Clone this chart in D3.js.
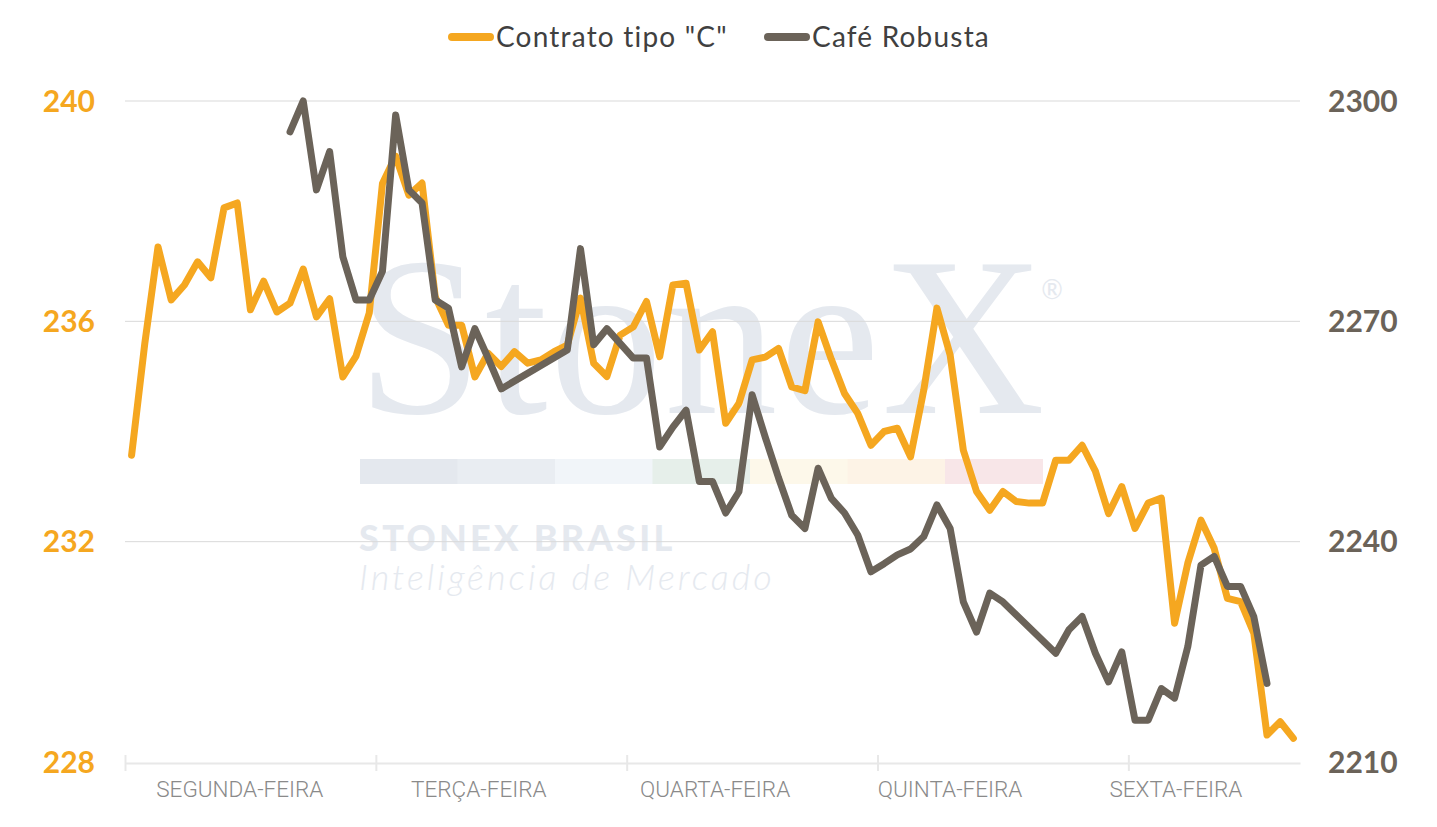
<!DOCTYPE html>
<html lang="pt">
<head>
  <meta charset="UTF-8">
  <title>Contrato C x Café Robusta</title>
  <script src="https://d3js.org/d3.v7.min.js"></script>
  <style>
    body { margin: 0; background: #fff; }
  </style>
</head>
<body>
  <div class="canvas"></div>
  <script>
    const width = 1437;
    const height = 827;

    // dias da semana e onde começa cada dia (em intervalos do eixo)
    const days = ['SEGUNDA-FEIRA', 'TERÇA-FEIRA', 'QUARTA-FEIRA', 'QUINTA-FEIRA', 'SEXTA-FEIRA'];
    const dayStart = [0, 19, 38, 57, 76];
    const dayLabelAt = [8.7, 26.8, 44.7, 62.5, 79.6];
    const slotCount = 89;

    const leftTicks = [228, 232, 236, 240];
    const rightTicks = [2210, 2240, 2270, 2300];

    const seriesNames = ['Contrato tipo "C"', 'Café Robusta'];

    const contratoC = [
      233.57, 235.6, 237.35, 236.39, 236.66, 237.08, 236.79, 238.06, 238.15, 236.21,
      236.73, 236.17, 236.33, 236.95, 236.08, 236.41, 234.99, 235.37, 236.15, 238.5,
      239.0, 238.29, 238.51, 236.44, 235.93, 235.93, 234.99, 235.42, 235.18, 235.45,
      235.24, 235.3, 235.45, 235.57, 236.42, 235.24, 235.0, 235.75, 235.9, 236.36,
      235.36, 236.66, 236.69, 235.48, 235.81, 234.15, 234.51, 235.3, 235.35, 235.51,
      234.81, 234.74, 235.99, 235.31, 234.69, 234.33, 233.75, 234.0, 234.06, 233.54,
      234.75, 236.24, 235.39, 233.66, 232.91, 232.57, 232.91, 232.73, 232.7, 232.7,
      233.48, 233.48, 233.75, 233.28, 232.51, 233.0, 232.24, 232.7, 232.79, 230.52,
      231.61, 232.39, 231.88, 230.97, 230.91, 230.34, 228.49, 228.73, 228.43
    ];

    const robusta = [
      null, null, null, null, null, null, null, null, null, null,
      null, null, 2295.8, 2300, 2287.9, 2293.1, 2278.8, 2272.9, 2272.9, 2276.8,
      2298.1, 2287.9, 2286.1, 2272.9, 2271.8, 2263.8, 2269.0, 2265.0, 2260.8, null,
      null, null, null, 2266.1, 2279.9, 2266.8, 2269.0, 2267.0, 2265.0, 2265.0,
      2252.9, 2255.6, 2257.9, 2248.2, 2248.2, 2243.9, 2246.8, 2260.0, 2254.2, 2248.7,
      2243.6, 2241.8, 2250.0, 2245.9, 2243.9, 2240.9, 2235.9, 2237.0, 2238.2, 2239.0,
      2240.7, 2245.0, 2241.8, 2231.8, 2227.7, 2233.0, 2231.8, null, null, null,
      2224.8, 2228.0, 2229.8, 2224.8, 2220.9, 2225.0, 2215.7, 2215.7, 2220.0, 2218.7,
      2225.7, 2236.8, 2238.0, 2233.9, 2233.9, 2229.8, 2220.7, null, null
    ];

    const orange = '#F5A720';
    const brown = '#6B6359';
    const mark = '#e5e9ef';

    const [mt, mb, ml, mr] = [101, 65, 125, 137];

    const svg = d3.select('.canvas')
      .append('svg')
      .attr('width', width)
      .attr('height', height)
      .style('font-family', 'Lato, sans-serif');

    const x = d3.scaleLinear()
      .domain([0, slotCount])
      .range([ml, width - mr]);

    const yL = d3.scaleLinear()
      .domain([228, 240])
      .range([height - mb, mt]);

    const yR = d3.scaleLinear()
      .domain([2210, 2300])
      .range([height - mb, mt]);

    // marca d'água
    const wm = svg.append('g');
    wm.append('text')
      .attr('x', 357).attr('y', 413)
      .attr('font-family', '"Liberation Serif", "DejaVu Serif", serif')
      .attr('font-size', 226)
      .attr('letter-spacing', 2)
      .attr('fill', mark)
      .text('StoneX');
    wm.append('text')
      .attr('x', 1052).attr('y', 299)
      .attr('text-anchor', 'middle')
      .attr('font-size', 26)
      .attr('fill', mark)
      .text('®');
    const stripe = ['#e4e8ee', '#e9edf2', '#f1f5f9', '#e6efea', '#fdf8ea', '#fdf3e6', '#f8e6e8'];
    wm.selectAll('rect.stripe').data(stripe).enter()
      .append('rect')
      .attr('class', 'stripe')
      .attr('x', (d, i) => 360 + i * 97.5)
      .attr('y', 459)
      .attr('width', 98)
      .attr('height', 25)
      .attr('fill', d => d);
    wm.append('text')
      .attr('x', 359).attr('y', 551)
      .attr('font-size', 36)
      .attr('font-weight', 900)
      .attr('letter-spacing', 3.3)
      .attr('fill', mark)
      .text('STONEX BRASIL');
    wm.append('text')
      .attr('x', 359).attr('y', 590)
      .attr('font-size', 36)
      .attr('font-style', 'italic')
      .attr('font-weight', 300)
      .attr('letter-spacing', 3)
      .attr('fill', mark)
      .text('Inteligência de Mercado');

    // grade
    svg.append('g')
      .selectAll('line')
      .data(leftTicks.slice(1))
      .enter()
      .append('line')
      .attr('x1', x(0)).attr('x2', x(slotCount))
      .attr('y1', d => yL(d)).attr('y2', d => yL(d))
      .attr('stroke', '#d9d9d9')
      .attr('stroke-width', 1);

    // eixo x
    const xAxis = svg.append('g')
      .attr('transform', `translate(0, ${yL(228) + 1})`)
      .call(d3.axisBottom(x).tickValues(dayStart).tickFormat('').tickSizeOuter(0));
    xAxis.select('.domain').attr('stroke', '#e8e8e8').attr('stroke-width', 2);
    xAxis.selectAll('.tick line')
      .attr('stroke', '#e8e8e8').attr('stroke-width', 2)
      .attr('y1', -8).attr('y2', 8);

    svg.append('g')
      .selectAll('text')
      .data(days)
      .enter()
      .append('text')
      .attr('x', (d, i) => x(dayLabelAt[i]))
      .attr('y', 797)
      .attr('text-anchor', 'middle')
      .attr('font-family', 'Roboto, sans-serif')
      .attr('font-weight', 300)
      .attr('font-size', 22.5)
      .attr('fill', '#8a8a8a')
      .text(d => d);

    // eixos y
    svg.append('g')
      .selectAll('text')
      .data(leftTicks)
      .enter()
      .append('text')
      .attr('x', 95)
      .attr('y', d => yL(d))
      .attr('dy', '0.36em')
      .attr('text-anchor', 'end')
      .attr('font-size', 30)
      .attr('font-weight', 700)
      .attr('fill', orange)
      .text(d => d);

    svg.append('g')
      .selectAll('text')
      .data(rightTicks)
      .enter()
      .append('text')
      .attr('x', 1328)
      .attr('y', d => yR(d))
      .attr('dy', '0.36em')
      .attr('font-size', 30)
      .attr('font-weight', 700)
      .attr('fill', brown)
      .text(d => d);

    // linhas
    const lineL = d3.line()
      .defined(d => d != null)
      .x((d, i) => x(i + 0.5))
      .y(d => yL(d));

    const pointsR = robusta.map((v, i) => ({ i, v })).filter(d => d.v != null);
    const lineR = d3.line()
      .x(d => x(d.i + 0.5))
      .y(d => yR(d.v));

    svg.append('path')
      .datum(contratoC)
      .attr('d', lineL)
      .attr('fill', 'none')
      .attr('stroke', orange)
      .attr('stroke-width', 7)
      .attr('stroke-linejoin', 'round')
      .attr('stroke-linecap', 'round');

    svg.append('path')
      .datum(pointsR)
      .attr('d', lineR)
      .attr('fill', 'none')
      .attr('stroke', brown)
      .attr('stroke-width', 7)
      .attr('stroke-linejoin', 'round')
      .attr('stroke-linecap', 'round');

    // legenda
    const legend = svg.append('g');
    const legendItems = [
      { name: seriesNames[0], color: orange, x0: 452 },
      { name: seriesNames[1], color: brown, x0: 768 }
    ];
    legendItems.forEach(item => {
      legend.append('line')
        .attr('x1', item.x0).attr('x2', item.x0 + 38)
        .attr('y1', 37).attr('y2', 37)
        .attr('stroke', item.color)
        .attr('stroke-width', 8)
        .attr('stroke-linecap', 'round');
      legend.append('text')
        .attr('x', item.x0 + 44)
        .attr('y', 37)
        .attr('dy', '0.35em')
        .attr('font-size', 28)
        .attr('letter-spacing', 1.2)
        .attr('fill', '#404040')
        .text(item.name);
    });
  </script>
</body>
</html>
